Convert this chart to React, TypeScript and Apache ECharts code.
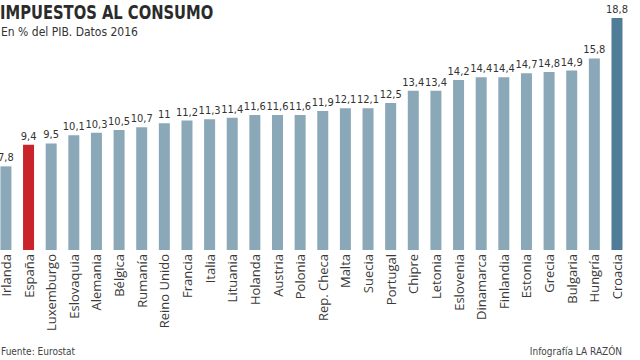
import React, { useEffect, useRef } from "react";
import * as echarts from "echarts";

const countries = [
  "Irlanda", "España", "Luxemburgo", "Eslovaquia", "Alemania", "Bélgica", "Rumanía",
  "Reino Unido", "Francia", "Italia", "Lituania", "Holanda", "Austria", "Polonia",
  "Rep. Checa", "Malta", "Suecia", "Portugal", "Chipre", "Letonia", "Eslovenia",
  "Dinamarca", "Finlandia", "Estonia", "Grecia", "Bulgaria", "Hungría", "Croacia",
];
const values = [
  7.8, 9.4, 9.5, 10.1, 10.3, 10.5, 10.7, 11, 11.2, 11.3, 11.4, 11.6, 11.6, 11.6,
  11.9, 12.1, 12.1, 12.5, 13.4, 13.4, 14.2, 14.4, 14.4, 14.7, 14.8, 14.9, 15.8, 18.8,
];
const title = "IMPUESTOS AL CONSUMO";
const subtitle = "En % del PIB. Datos 2016";
const source = "Fuente: Eurostat";
const credit = "Infografía LA RAZÓN";

const COND = "'DejaVu Sans Condensed', 'Liberation Sans Narrow', sans-serif";
const SANS = "'Open Sans', 'Noto Sans', sans-serif";
const BASE = "#8aa8b8";
const RED = "#c8242a";
const DARK = "#4f7c96";
const SHIFT = 10;

export default function App() {
  const ref = useRef<HTMLDivElement>(null);
  useEffect(() => {
    if (!ref.current) return;
    const chart = echarts.init(ref.current, null, { renderer: "svg" });
    chart.setOption({
      animation: false,
      backgroundColor: "#ffffff",
      textStyle: { fontFamily: SANS },
      grid: { left: 4.6, right: 11.7, top: 18, bottom: 110, containLabel: false },
      xAxis: {
        type: "category",
        data: countries,
        axisLine: { show: false },
        axisTick: { show: false },
        axisLabel: {
          rotate: 90,
          interval: 0,
          margin: 4,
          fontSize: 13,
          color: "#3a3a3a",
          fontFamily: SANS,
        },
      },
      yAxis: {
        type: "value",
        min: 1.6,
        max: 18.8,
        show: false,
        splitLine: { show: false },
      },
      series: [
        {
          type: "bar",
          barWidth: 11,
          data: values.map((v, i) => ({
            value: v,
            itemStyle: {
              color: countries[i] === "España" ? RED : countries[i] === "Croacia" ? DARK : BASE,
            },
          })),
          label: {
            show: true,
            position: "top",
            distance: 3,
            fontSize: 11,
            color: "#333333",
            fontFamily: COND,
            formatter: (p: any) => String(p.value).replace(".", ","),
          },
        },
      ],
      graphic: [
        {
          type: "text",
          x: SHIFT,
          y: 2,
          scaleX: 0.82,
          style: { text: title, fontSize: 20, fontWeight: "bold", fill: "#2b2b2b", fontFamily: COND },
        },
        {
          type: "text",
          x: SHIFT + 1,
          y: 26,
          style: { text: subtitle, fontSize: 12, fill: "#333333", fontFamily: COND },
        },
        {
          type: "text",
          x: SHIFT + 1,
          y: 346,
          style: { text: source, fontSize: 10, fill: "#444444", fontFamily: COND },
        },
        {
          type: "text",
          right: 18,
          top: 346,
          style: { text: credit, fontSize: 10, fill: "#444444", fontFamily: COND },
        },
      ],
    });
    return () => chart.dispose();
  }, []);
  return (
    <div
      ref={ref}
      style={{ position: "fixed", left: -SHIFT, top: 0, width: 640 + SHIFT, height: 360 }}
    />
  );
}
